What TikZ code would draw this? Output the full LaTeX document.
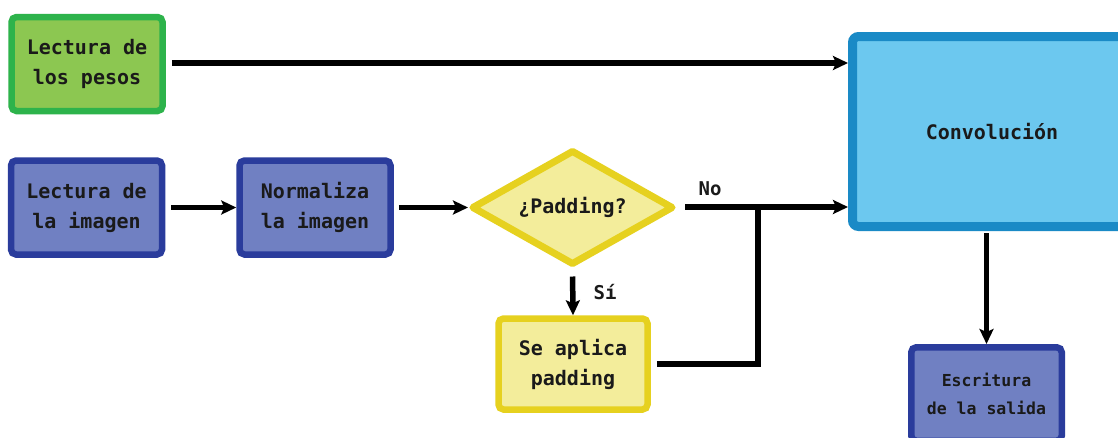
\documentclass[tikz,border=0pt]{standalone}
\usepackage{fontspec}
\setmonofont{DejaVu Sans Mono}
\usetikzlibrary{arrows.meta,shapes.geometric}

\definecolor{greenfill}{HTML}{8CC751}
\definecolor{greenline}{HTML}{2DB34B}
\definecolor{bluefill}{HTML}{7080C2}
\definecolor{blueline}{HTML}{2A3C9C}
\definecolor{yellowfill}{HTML}{F3ED9B}
\definecolor{yellowline}{HTML}{E6D11F}
\definecolor{convfill}{HTML}{6CC8EF}
\definecolor{convline}{HTML}{1A8AC6}
\definecolor{ink}{HTML}{1A1A1A}

\tikzset{
  txt/.style={font=\ttfamily\bfseries\fontsize{20}{30}\selectfont, text=ink, align=center},
  box/.style={txt, rectangle, rounded corners=5pt, inner sep=0pt, line width=6.5pt,
              minimum width=151pt, minimum height=94pt},
  greenbox/.style={box, draw=greenline, fill=greenfill},
  bluebox/.style={box, draw=blueline, fill=bluefill},
  yellowbox/.style={box, draw=yellowline, fill=yellowfill},
  decision/.style={txt, diamond, aspect=1.75, inner sep=0pt, line width=7pt, line join=round,
              draw=yellowline, fill=yellowfill, minimum width=202pt, minimum height=115pt},
  convbox/.style={txt, rectangle, rounded corners=6pt, inner sep=0pt, line width=9pt,
              draw=convline, fill=convfill, minimum width=279pt, minimum height=190pt},
  flow/.style={line width=5.5pt, draw=black, -{Stealth[length=15pt,width=14pt,inset=3pt]}},
  plain/.style={line width=5.5pt, draw=black},
  lbl/.style={font=\ttfamily\bfseries\fontsize{19}{22}\selectfont, text=ink}
}

\begin{document}
\begin{tikzpicture}[x=1pt, y=-1pt]
  \path[use as bounding box, clip] (0,0) rectangle (1118,437);
  \fill[white] (0,0) rectangle (1118,437);

  % process blocks
  \node[greenbox] (pesos) at (87,64) {Lectura de\\los pesos};
  \node[bluebox] (imagen) at (86.5,207.5) {Lectura de\\la imagen};
  \node[bluebox] (norm) at (315,207.5) {Normaliza\\la imagen};
  \node[decision] (pad) at (572.5,207.5) {¿Padding?};
  \node[yellowbox, minimum width=149pt, minimum height=91pt] (aplica) at (573,364) {Se aplica\\padding};
  \node[convbox] (conv) at (992,131.5) {Convolución};
  \node[bluebox, font=\ttfamily\bfseries\fontsize{16.5}{28}\selectfont,
        minimum width=150.5pt, minimum height=93.5pt] (salida) at (986.5,394) {Escritura\\de la salida};

  % merge point of the two padding branches
  \coordinate (junta) at (758,207);

  % connectors
  \draw[flow, shorten <=6pt] (pesos.east |- 0,63) -- (conv.west |- 0,63);
  \draw[flow, shorten <=6pt] (imagen.east) -- (norm.west);
  \draw[flow, shorten <=5pt] (norm.east) -- (pad.west);
  \draw[flow, shorten <=8pt] (pad.east |- junta) -- (conv.west |- junta);
  \draw[flow, shorten <=8pt] (pad.south) -- (aplica.north);
  \draw[plain, line join=miter, shorten <=6pt] (aplica.east) -| (junta);
  \draw[flow, shorten <=2pt] (salida.north |- conv.south) -- (salida.north);

  % branch labels
  \node[lbl] (no) at (710,189) {No};
  \node[lbl] (si) at (605,292) {Sí};
\end{tikzpicture}
\end{document}
